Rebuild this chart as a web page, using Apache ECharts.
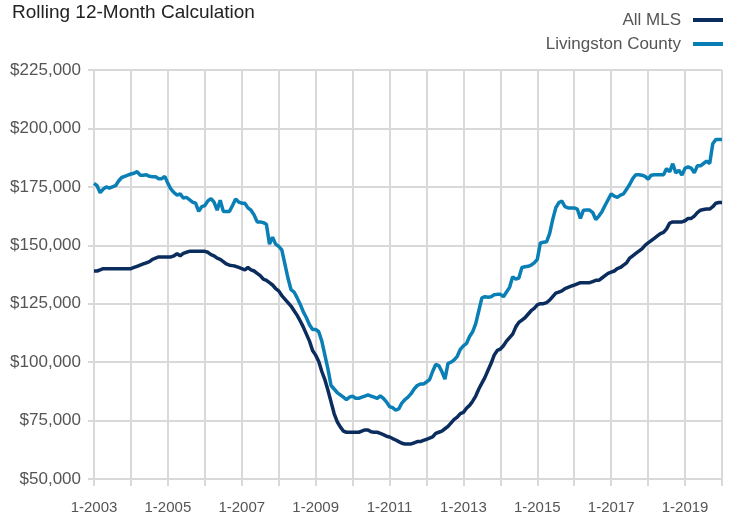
<!DOCTYPE html>
<html>
<head>
<meta charset="utf-8">
<script src="https://cdn.jsdelivr.net/npm/echarts@6/dist/echarts.min.js"></script>
<style>
html,body{margin:0;padding:0;background:#fff;}
#chart{width:732px;height:515px;}
</style>
</head>
<body>
<div id="chart"></div>
<script>
// Monthly categories from 1-2003 to 1-2020
const startYear = 2003;
const endYear = 2020;
const categories = [];
for (let y = startYear; y <= endYear; y++) {
  for (let m = 1; m <= 12; m++) {
    if (y === endYear && m > 1) break;
    categories.push(m + '-' + y);
  }
}

// Median sales price, thousands of dollars (rolling 12-month)
const allMLS = [
  139, 139, 139.5, 140, 140, 140, 140, 140, 140, 140, 140, 140,
  140, 140.5, 141, 141.5, 142, 142.5, 143, 144, 144.5, 145, 145, 145,
  145, 145, 145.5, 146.4, 145.5, 146.5, 147, 147.4, 147.4, 147.4, 147.4, 147.4,
  147.4, 147, 146, 145.5, 144.5, 144, 143, 142, 141.5, 141.3, 141, 140.5,
  140, 139.5, 140.5, 139.5, 139, 138, 137, 135.5, 135, 134, 133, 131.5,
  130.5, 128.5, 127, 125.5, 124, 122, 120, 117.6, 115, 112, 109, 105,
  103, 100.3, 96, 92.5, 88, 83, 78, 74.5, 72.3, 70.5, 70, 70,
  70, 70, 70, 70.5, 71, 71, 70.2, 70, 70, 69.5, 69, 68.3,
  68, 67.3, 66.7, 66, 65.3, 65, 65, 65, 65.5, 66, 66, 66.5,
  67, 67.5, 68, 69.5, 70, 70.5, 71.5, 72.5, 74, 75.5, 76.5, 78,
  78.5, 80.3, 81.5, 83.3, 85.5, 88.5, 91, 93.5, 96.5, 99.5, 103, 105,
  105.6, 107, 109, 110.5, 112, 115, 117, 118, 119, 120.5, 122, 123,
  124.5, 125, 125, 125.5, 126.5, 128, 129.5, 130, 130.5, 131.5, 132, 132.5,
  133, 133.5, 134, 134, 134, 134, 134.5, 135, 135, 136, 137, 138,
  138.5, 139, 140, 140.5, 141.5, 142.5, 144.5, 145.5, 146.5, 147.5, 148.5, 150,
  151, 152, 153, 154, 155, 155.5, 157, 159.5, 160, 160, 160, 160,
  160.5, 161.5, 161.5, 162.5, 164, 165, 165.3, 165.5, 165.5, 166.5, 168, 168.3,
  168.3
];

const livingston = [
  176.5, 175.5, 172.5, 174, 175, 174.5, 175, 175.5, 177.5, 179, 179.5, 180,
  180.5, 180.8, 181.5, 180, 180, 180.2, 179.5, 179.3, 179.3, 178.5, 178.5, 179.5,
  176.5, 174, 172.5, 171.5, 172, 170.2, 170.5, 169.5, 168.5, 168, 164.5, 166.5,
  167, 169, 170, 168.5, 165, 169.3, 164.5, 164.5, 164.5, 167, 169.8, 168.5,
  168, 168, 166, 165, 163, 160, 160, 159.7, 159, 150.5, 153.5, 150.5,
  149.5, 148, 142, 136, 131, 130, 127.5, 124.7, 121.5, 119, 116, 114,
  114, 113, 109, 103, 97, 90, 88.5, 87, 86, 85, 84, 85,
  85.5, 84.5, 84.5, 85, 85.5, 86, 85.5, 85, 84.5, 85.6, 84.5, 83,
  81, 80.5, 79.5, 80, 82.5, 84, 85, 86.5, 88.5, 90, 90.6, 90.6,
  91.5, 92.5, 96, 99, 98.5, 96, 92.7, 99.5, 100, 101, 102.5, 105.5,
  107, 108, 111, 113, 116.5, 122, 127.5, 128, 127.8, 128, 128.8, 129,
  129, 128, 130, 132, 136.5, 135.5, 136, 140.5, 140.8, 141, 141.5, 142.5,
  144, 151, 151.3, 151.5, 155, 161, 166, 168.3, 168.9, 166.5, 166, 166,
  166, 165.5, 161.5, 165, 165.1, 165.1, 164, 161, 162.5, 164.4, 167, 169.5,
  172, 171, 170.5, 171.5, 172, 174, 176, 178.5, 180.2, 180.2, 180, 179.5,
  178.3, 180, 180.2, 180.2, 180.2, 180.2, 182.8, 181.4, 184.9, 181, 182.1, 180,
  183, 183.5, 183, 181, 184, 184, 185, 186, 185, 193.4, 195.3, 195.3,
  195.3
];

const seriesNames = ['All MLS', 'Livingston County'];
const yMin = 50, yMax = 225, yStep = 25;

const FONT = '"Liberation Sans", Arial, sans-serif';
const GRID = '#d9d9d9';

const chart = echarts.init(document.getElementById('chart'), null, {renderer: 'canvas'});
chart.setOption({
  animation: false,
  backgroundColor: '#ffffff',
  textStyle: {fontFamily: FONT},
  title: {
    text: 'Rolling 12-Month Calculation',
    left: 12, top: 3, padding: 0,
    textStyle: {fontFamily: FONT, fontSize: 19, fontWeight: 'normal', color: '#222222'}
  },
  legend: {
    orient: 'vertical',
    right: 9, top: 10,
    align: 'right',
    itemWidth: 30, itemHeight: 4,
    itemGap: 4,
    icon: 'rect',
    padding: 0,
    textStyle: {fontFamily: FONT, fontSize: 17, color: '#555555', lineHeight: 20, padding: [0, 7, 0, 0]},
    data: seriesNames
  },
  grid: {left: 94, right: 10, top: 70, bottom: 35, containLabel: false},
  xAxis: {
    type: 'category',
    boundaryGap: false,
    data: categories,
    axisLine: {show: true, lineStyle: {color: GRID, width: 2}},
    axisTick: {show: true, length: 7, interval: (i) => i % 12 === 0, lineStyle: {color: GRID, width: 2}},
    axisLabel: {
      interval: (i) => i % 24 === 0 && i < categories.length - 1,
      color: '#555555', fontSize: 15, fontFamily: FONT, margin: 21
    },
    splitLine: {show: true, interval: (i) => i % 12 === 0, lineStyle: {color: GRID, width: 2}}
  },
  yAxis: {
    type: 'value',
    min: yMin, max: yMax, interval: yStep,
    axisLine: {show: false},
    axisTick: {show: true, length: 6, lineStyle: {color: GRID, width: 2}},
    axisLabel: {
      color: '#555555', fontSize: 17, fontFamily: FONT, margin: 13,
      formatter: (v) => '$' + (v * 1000).toLocaleString('en-US')
    },
    splitLine: {show: true, lineStyle: {color: GRID, width: 2}}
  },
  series: [
    {
      name: seriesNames[1], type: 'line', data: livingston, showSymbol: false, symbol: 'none',
      lineStyle: {color: '#0a7fb6', width: 3.5}, itemStyle: {color: '#0a7fb6'}, z: 2
    },
    {
      name: seriesNames[0], type: 'line', data: allMLS, showSymbol: false, symbol: 'none',
      lineStyle: {color: '#0b2d5e', width: 3.5}, itemStyle: {color: '#0b2d5e'}, z: 3
    }
  ]
});
</script>
</body>
</html>
